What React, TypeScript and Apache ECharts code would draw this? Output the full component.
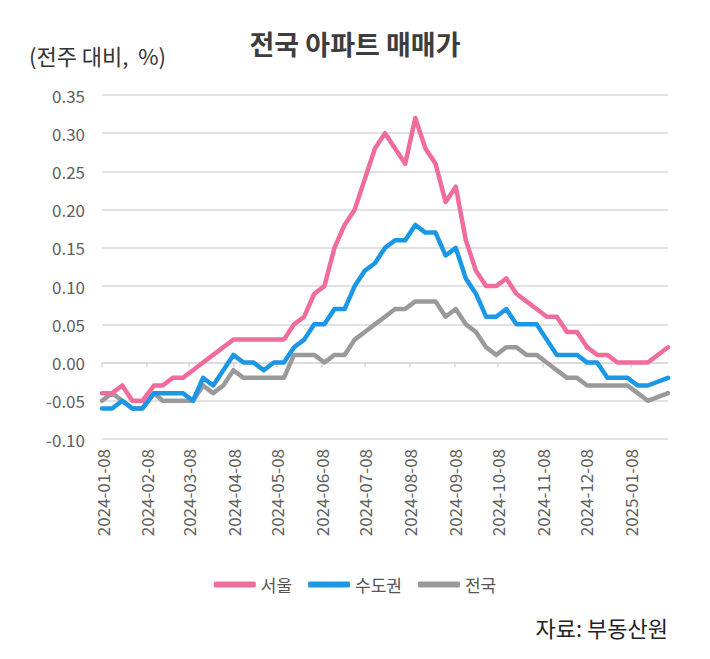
import React, { useEffect, useRef } from "react";
import * as echarts from "echarts";

const dates = [
  "2024-01-08", "2024-01-15", "2024-01-22", "2024-01-29",
  "2024-02-05", "2024-02-13", "2024-02-19", "2024-02-26",
  "2024-03-04", "2024-03-11", "2024-03-18", "2024-03-25",
  "2024-04-01", "2024-04-08", "2024-04-15", "2024-04-22", "2024-04-29",
  "2024-05-06", "2024-05-13", "2024-05-20", "2024-05-27",
  "2024-06-03", "2024-06-10", "2024-06-17", "2024-06-24",
  "2024-07-01", "2024-07-08", "2024-07-15", "2024-07-22", "2024-07-29",
  "2024-08-05", "2024-08-12", "2024-08-19", "2024-08-26",
  "2024-09-02", "2024-09-09", "2024-09-16", "2024-09-23", "2024-09-30",
  "2024-10-07", "2024-10-14", "2024-10-21", "2024-10-28",
  "2024-11-04", "2024-11-11", "2024-11-18", "2024-11-25",
  "2024-12-02", "2024-12-09", "2024-12-16", "2024-12-23", "2024-12-30",
  "2025-01-06", "2025-01-13", "2025-01-20",
  "2025-02-03",
];

const seoul = [
  -0.04, -0.04, -0.03, -0.05,
  -0.05, -0.03, -0.03, -0.02,
  -0.02, -0.01, 0.0, 0.01,
  0.02, 0.03, 0.03, 0.03, 0.03,
  0.03, 0.03, 0.05, 0.06,
  0.09, 0.1, 0.15, 0.18,
  0.2, 0.24, 0.28, 0.3, 0.28,
  0.26, 0.32, 0.28, 0.26,
  0.21, 0.23, 0.16, 0.12, 0.1,
  0.1, 0.11, 0.09, 0.08,
  0.07, 0.06, 0.06, 0.04,
  0.04, 0.02, 0.01, 0.01, 0.0,
  0.0, 0.0, 0.0,
  0.02,
];

const capital = [
  -0.06, -0.06, -0.05, -0.06,
  -0.06, -0.04, -0.04, -0.04,
  -0.04, -0.05, -0.02, -0.03,
  -0.01, 0.01, 0.0, 0.0, -0.01,
  0.0, 0.0, 0.02, 0.03,
  0.05, 0.05, 0.07, 0.07,
  0.1, 0.12, 0.13, 0.15, 0.16,
  0.16, 0.18, 0.17, 0.17,
  0.14, 0.15, 0.11, 0.09, 0.06,
  0.06, 0.07, 0.05, 0.05,
  0.05, 0.03, 0.01, 0.01,
  0.01, 0.0, 0.0, -0.02, -0.02,
  -0.02, -0.03, -0.03,
  -0.02,
];

const national = [
  -0.05, -0.04, -0.05, -0.06,
  -0.06, -0.04, -0.05, -0.05,
  -0.05, -0.05, -0.03, -0.04,
  -0.03, -0.01, -0.02, -0.02, -0.02,
  -0.02, -0.02, 0.01, 0.01,
  0.01, 0.0, 0.01, 0.01,
  0.03, 0.04, 0.05, 0.06, 0.07,
  0.07, 0.08, 0.08, 0.08,
  0.06, 0.07, 0.05, 0.04, 0.02,
  0.01, 0.02, 0.02, 0.01,
  0.01, 0.0, -0.01, -0.02,
  -0.02, -0.03, -0.03, -0.03, -0.03,
  -0.03, -0.04, -0.05,
  -0.04,
];

const tickDates = [
  "2024-01-08", "2024-02-08", "2024-03-08", "2024-04-08", "2024-05-08",
  "2024-06-08", "2024-07-08", "2024-08-08", "2024-09-08", "2024-10-08",
  "2024-11-08", "2024-12-08", "2025-01-08",
];

const seriesNames = ["서울", "수도권", "전국"];
const colors = ["#EF6C9C", "#1B97E6", "#9A9A9A"];

const FONT = '"Noto Sans CJK KR", "Noto Sans", sans-serif';
const DAY = 86400000;

function toDay(s: string): number {
  const [y, m, d] = s.split("-").map(Number);
  return Math.round(Date.UTC(y, m - 1, d) / DAY);
}
function pad(n: number): string {
  return n < 10 ? "0" + n : "" + n;
}
function fmt(v: number): string {
  const d = new Date(Math.round(v) * DAY);
  return d.getUTCFullYear() + "-" + pad(d.getUTCMonth() + 1) + "-" + pad(d.getUTCDate());
}

export default function App() {
  const ref = useRef<HTMLDivElement>(null);

  useEffect(() => {
    if (!ref.current) return;
    const chart = echarts.init(ref.current, undefined, { renderer: "svg" });
    const xs = dates.map(toDay);
    const ticks = tickDates.map(toDay);
    const minX = xs[0];
    const maxX = xs[xs.length - 1];
    const valuesList = [seoul, capital, national];

    chart.setOption({
      animation: false,
      backgroundColor: "#ffffff",
      title: {
        text: "전국 아파트 매매가",
        left: "center",
        top: 25,
        textStyle: { fontFamily: FONT, fontSize: 27, fontWeight: "bold", color: "#3d3d3d" },
      },
      graphic: [
        {
          type: "text",
          left: 29,
          top: 44,
          style: { text: "(전주 대비,  %)", font: `22px ${FONT}`, fill: "#333333" },
        },
        {
          type: "text",
          right: 42,
          top: 616,
          style: { text: "자료: 부동산원", font: `22px ${FONT}`, fill: "#222222" },
        },
      ],
      legend: {
        data: seriesNames,
        top: 571,
        left: "center",
        icon: "roundRect",
        itemWidth: 42,
        itemHeight: 6,
        itemGap: 16,
        textStyle: { fontFamily: FONT, fontSize: 17, color: "#555555" },
      },
      grid: { left: 102, right: 42, top: 95, bottom: 220, containLabel: false },
      xAxis: [
        {
          type: "value",
          min: minX,
          max: maxX,
          position: "bottom",
          axisLine: { show: false, onZero: false },
          axisTick: { show: false },
          splitLine: { show: false },
          axisLabel: {
            customValues: ticks,
            rotate: 90,
            margin: 10,
            fontFamily: FONT,
            fontSize: 17,
            color: "#606060",
            formatter: (v: number) => fmt(v),
          },
        },
        {
          type: "value",
          min: minX,
          max: maxX,
          position: "top",
          axisLine: { show: true, onZero: true, lineStyle: { color: "#d9d9d9", width: 1.5 } },
          axisTick: {
            show: true,
            inside: true,
            length: 5,
            customValues: ticks,
            lineStyle: { color: "#d9d9d9", width: 1.5 },
          },
          axisLabel: { show: false },
          splitLine: { show: false },
        },
      ],
      yAxis: {
        type: "value",
        min: -0.1,
        max: 0.35,
        interval: 0.05,
        axisLine: { show: false },
        axisTick: { show: false },
        splitLine: { lineStyle: { color: "#d9d9d9", width: 1.5 } },
        axisLabel: {
          margin: 17,
          fontFamily: FONT,
          fontSize: 17,
          color: "#606060",
          formatter: (v: number) => v.toFixed(2),
        },
      },
      series: valuesList.map((vals, i) => ({
        name: seriesNames[i],
        type: "line",
        xAxisIndex: 0,
        symbol: "none",
        z: 10 - i,
        lineStyle: { color: colors[i], width: 4.5, join: "round", cap: "round" },
        itemStyle: { color: colors[i] },
        data: vals.map((v, j) => [xs[j], v]),
      })),
    });

    return () => chart.dispose();
  }, []);

  return (
    <div
      ref={ref}
      style={{ position: "fixed", left: 0, top: 0, width: 710, height: 659 }}
    />
  );
}
